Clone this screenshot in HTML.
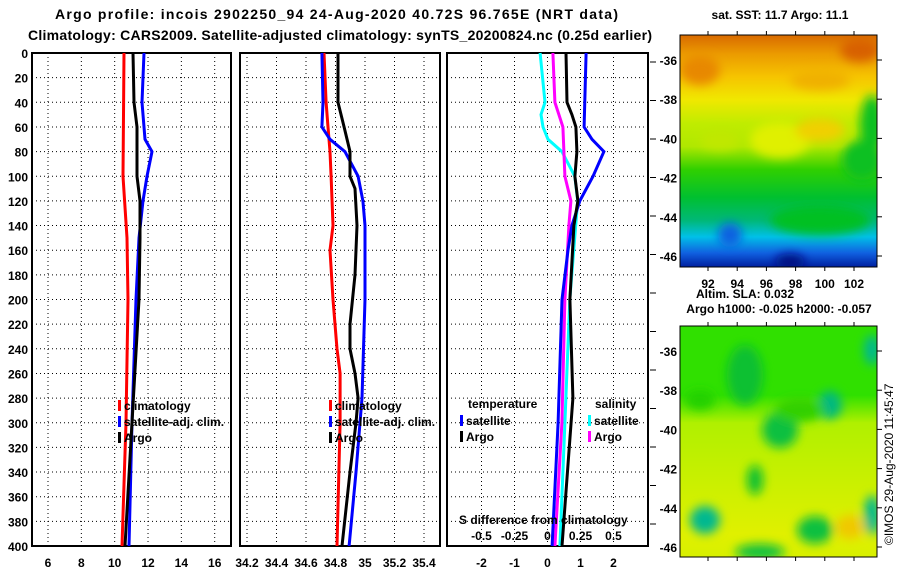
<!DOCTYPE html>
<html><head><meta charset="utf-8"><style>
html,body{margin:0;padding:0;background:#fff;}
svg text{font-family:"Liberation Sans",sans-serif;font-weight:bold;fill:#000;}
</style></head><body>
<svg id="fig" width="900" height="580" viewBox="0 0 900 580" xmlns="http://www.w3.org/2000/svg">
<defs>
<linearGradient id="sstg" x1="0" y1="0" x2="0" y2="1">
<stop offset="0" stop-color="#d86a00"/><stop offset="0.08" stop-color="#eb9a00"/>
<stop offset="0.18" stop-color="#f6c400"/><stop offset="0.28" stop-color="#f0e800"/>
<stop offset="0.38" stop-color="#c0ec00"/><stop offset="0.48" stop-color="#b0e800"/>
<stop offset="0.58" stop-color="#30d000"/><stop offset="0.7" stop-color="#00c030"/>
<stop offset="0.8" stop-color="#00b878"/><stop offset="0.87" stop-color="#00c0e8"/>
<stop offset="0.94" stop-color="#1060e0"/><stop offset="1" stop-color="#0020a0"/>
</linearGradient>
<linearGradient id="slag" x1="0" y1="0" x2="0" y2="1">
<stop offset="0" stop-color="#30e000"/><stop offset="0.3" stop-color="#30e000"/>
<stop offset="0.42" stop-color="#b0f000"/><stop offset="0.9" stop-color="#e0f000"/><stop offset="1" stop-color="#d8f000"/>
</linearGradient>
<filter id="blur"><feGaussianBlur stdDeviation="5"/></filter>
<clipPath id="c1"><rect x="680" y="35" width="197" height="232"/></clipPath>
<clipPath id="c2"><rect x="680" y="326" width="197" height="231"/></clipPath>
</defs>
<text x="55" y="19" font-size="14" textLength="563">Argo profile: incois 2902250_94 24-Aug-2020 40.72S 96.765E (NRT data)</text>
<text x="28" y="40" font-size="14" textLength="624">Climatology: CARS2009. Satellite-adjusted climatology: synTS_20200824.nc (0.25d earlier)</text>
<g id="panels"></g>
<g id="maps">
<text x="780" y="19" font-size="12" text-anchor="middle">sat. SST: 11.7 Argo: 11.1</text>
<g>
<rect x="680" y="35" width="197" height="232" fill="url(#sstg)"/>
<g filter="url(#blur)" clip-path="url(#c1)">
<ellipse cx="820" cy="80" rx="30" ry="10" fill="#f0b000"/>
<ellipse cx="872" cy="125" rx="12" ry="30" fill="#10c020"/>
<ellipse cx="862" cy="160" rx="20" ry="20" fill="#10c020"/>
<ellipse cx="780" cy="140" rx="30" ry="18" fill="#e0f000"/>
<ellipse cx="820" cy="130" rx="25" ry="12" fill="#f0d000"/>
<ellipse cx="720" cy="140" rx="20" ry="10" fill="#c0e800"/>
<ellipse cx="820" cy="220" rx="50" ry="15" fill="#00c020"/>
<ellipse cx="730" cy="235" rx="12" ry="12" fill="#1060e0"/>
<ellipse cx="790" cy="262" rx="15" ry="8" fill="#001080"/>
<ellipse cx="700" cy="70" rx="20" ry="15" fill="#e88800"/>
<ellipse cx="860" cy="50" rx="20" ry="12" fill="#d86000"/>
</g>
<rect x="680" y="35" width="197" height="232" fill="none" stroke="#000"/>
</g>
<text x="745" y="298" font-size="12" text-anchor="middle">Altim. SLA: 0.032</text>
<text x="779" y="313" font-size="12" text-anchor="middle">Argo h1000: -0.025 h2000: -0.057</text>
<g>
<rect x="680" y="326" width="197" height="231" fill="url(#slag)"/>
<g filter="url(#blur)" clip-path="url(#c2)">
<ellipse cx="745" cy="375" rx="18" ry="30" fill="#10c030"/>
<ellipse cx="830" cy="405" rx="12" ry="14" fill="#00b880"/>
<ellipse cx="780" cy="430" rx="18" ry="18" fill="#10c040"/>
<ellipse cx="705" cy="520" rx="15" ry="14" fill="#00b890"/>
<ellipse cx="755" cy="480" rx="8" ry="15" fill="#10c030"/>
<ellipse cx="815" cy="530" rx="18" ry="14" fill="#10c040"/>
<ellipse cx="850" cy="527" rx="14" ry="12" fill="#f0c800"/>
<ellipse cx="872" cy="515" rx="8" ry="20" fill="#00b890"/>
<ellipse cx="760" cy="552" rx="25" ry="8" fill="#10c040"/>
<ellipse cx="800" cy="410" rx="25" ry="12" fill="#30d000"/>
<ellipse cx="700" cy="400" rx="15" ry="10" fill="#20d000"/>
<ellipse cx="872" cy="350" rx="8" ry="15" fill="#00b890"/>
</g>
<rect x="680" y="326" width="197" height="231" fill="none" stroke="#000"/>
</g>
<g id="mapaxes"></g>
<text transform="translate(893,545) rotate(-90)" font-size="12" style="font-weight:normal">©IMOS 29-Aug-2020 11:45:47</text>
</g>
</svg>
<script>
const depthTicks=[0,20,40,60,80,100,120,140,160,180,200,220,240,260,280,300,320,340,360,380,400];
const tTicks=[6,8,10,12,14,16];
const sTicks=[34.2,34.4,34.6,34.8,35,35.2,35.4];
const dTicks=[-2,-1,0,1,2];
const sdTickLabels=["-0.5","-0.25","0","0.25","0.5"];
const sdTicks=[-0.5,-0.25,0,0.25,0.5];
// temperature panel
const tClimDepth=[0,100,150,200,300,400];
const tClim=[10.56,10.5,10.74,10.8,10.68,10.44];
const tArgoDepth=[0,40,60,80,100,120,150,200,300,400];
const tArgo=[11.1,11.16,11.34,11.34,11.34,11.52,11.52,11.46,11.04,10.62];
const tSatDepth=[0,40,70,80,100,120,150,200,300,400];
const tSat=[11.76,11.64,11.82,12.24,11.94,11.7,11.46,11.28,11.04,10.86];
// salinity panel
const sClimDepth=[0,40,60,80,100,140,160,200,240,260,300,400];
const sClim=[34.722,34.736,34.749,34.763,34.770,34.783,34.763,34.783,34.810,34.831,34.831,34.810];
const sArgoDepth=[0,40,60,80,100,110,140,180,220,240,260,280,300,340,400];
const sArgo=[34.817,34.817,34.858,34.898,34.898,34.932,34.946,34.932,34.898,34.898,34.932,34.953,34.939,34.898,34.844];
const sSatDepth=[0,40,60,70,80,100,120,140,200,280,300,340,400];
const sSat=[34.708,34.715,34.708,34.763,34.864,34.953,34.986,35.0,35.0,34.98,34.966,34.939,34.892];
// difference panel
const dTSatDepth=[0,60,70,80,100,120,140,160,200,300,400];
const dTSat=[1.17,1.11,1.35,1.71,1.38,0.98,0.74,0.62,0.44,0.32,0.14];
const dTArgoDepth=[0,40,50,60,80,100,120,140,200,280,400];
const dTArgo=[0.56,0.59,0.74,0.86,0.89,0.83,0.92,0.80,0.68,0.77,0.44];
const dSSatDepth=[0,40,50,60,70,80,100,120,140,200,300,400];
const dSSat=[-0.056,-0.019,-0.049,-0.034,0.004,0.109,0.207,0.229,0.214,0.169,0.132,0.094];
const dSArgoDepth=[0,40,50,60,80,100,120,140,200,300,400];
const dSArgo=[0.041,0.056,0.086,0.117,0.124,0.132,0.177,0.162,0.132,0.109,0.056];
const latTicks=[-36,-38,-40,-42,-44,-46];
const lonTicks=[92,94,96,98,100,102];

const NS='http://www.w3.org/2000/svg';
const Y0=53,Y1=546;
function y(d){return Y0+(d/400)*(Y1-Y0);}
function mk(tag,attrs,parent){const e=document.createElementNS(NS,tag);for(const k in attrs)e.setAttribute(k,attrs[k]);parent.appendChild(e);return e;}
const root=document.getElementById('panels');
function panel(name,L,R,xf,ticks,labels,yl){
  const g=mk('g',{},root);
  
  
  ticks.forEach((t,i)=>{const X=xf(t);
    const l=mk('line',{x1:X,x2:X,y1:Y0,y2:Y1,stroke:'#000','stroke-dasharray':'1,3'},g);
    
    
    if(labels){const tx=mk('text',{x:X,y:567,'font-size':12,'text-anchor':'middle'},g);tx.textContent=labels[i];
      
      }
  });
  depthTicks.forEach(d=>{const Y=y(d);
    if(d>0&&d<400){const l=mk('line',{x1:L,x2:R,y1:Y,y2:Y,stroke:'#000','stroke-dasharray':'1,3'},g);
      
      }
    if(yl){const tx=mk('text',{x:28,y:Y+5,'font-size':12,'text-anchor':'end'},g);tx.textContent=d;
      
      }
  });
  const fr=mk('rect',{x:L,y:Y0,width:R-L,height:Y1-Y0,fill:'none',stroke:'#000','stroke-width':2},g);
  
  
  return g;
}
function line(g,name,xf,vals,deps,color,w){
  const pts=vals.map((v,i)=>xf(v).toFixed(1)+','+y(deps[i]).toFixed(1)).join(' ');
  const p=mk('polyline',{points:pts,fill:'none',stroke:color,'stroke-width':w||3},g);
  
  
}
function leg(g,name,x,yy,color,label){
  const r=mk('rect',{x:x,y:yy-10,width:3,height:11,fill:color},g);
  
  
  const t=mk('text',{x:x+6,y:yy,'font-size':12},g);t.textContent=label;
  
  
}
// panel 1
const xT=v=>48+(v-6)*16.67;
const g1=panel('temperature-panel',32,231,xT,tTicks,tTicks.map(String),true);
line(g1,'temp-climatology-line',xT,tClim,tClimDepth,'#f00');
line(g1,'temp-satellite-line',xT,tSat,tSatDepth,'#00f');
line(g1,'temp-argo-line',xT,tArgo,tArgoDepth,'#000');
leg(g1,'legend-climatology',118,410,'#f00','climatology');
leg(g1,'legend-satellite-adj',118,426,'#00f','satellite-adj. clim.');
leg(g1,'legend-argo',118,442,'#000','Argo');
// panel 2
const xS=v=>247+(v-34.2)/0.2*29.5;
const g2=panel('salinity-panel',240,440,xS,sTicks,sTicks.map(String),false);
line(g2,'sal-climatology-line',xS,sClim,sClimDepth,'#f00');
line(g2,'sal-satellite-line',xS,sSat,sSatDepth,'#00f');
line(g2,'sal-argo-line',xS,sArgo,sArgoDepth,'#000');
leg(g2,'legend-climatology-2',329,410,'#f00','climatology');
leg(g2,'legend-satellite-adj-2',329,426,'#00f','satellite-adj. clim.');
leg(g2,'legend-argo-2',329,442,'#000','Argo');
// panel 3
const xD=v=>547.5+v*33;
const xSD=v=>547.5+v*132;
const g3=panel('difference-panel',447,648,xD,dTicks,dTicks.map(String),false);
line(g3,'dsal-satellite-line',xSD,dSSat,dSSatDepth,'#0ff');
line(g3,'dsal-argo-line',xSD,dSArgo,dSArgoDepth,'#f0f');
line(g3,'dtemp-satellite-line',xD,dTSat,dTSatDepth,'#00f');
line(g3,'dtemp-argo-line',xD,dTArgo,dTArgoDepth,'#000');
[['temperature',468,408],['salinity',595,408]].forEach(a=>{const t=mk('text',{x:a[1],y:a[2],'font-size':12},g3);t.textContent=a[0];
  
  });
leg(g3,'legend-temp-satellite',460,425,'#00f','satellite');
leg(g3,'legend-temp-argo',460,441,'#000','Argo');
leg(g3,'legend-sal-satellite',588,425,'#0ff','satellite');
leg(g3,'legend-sal-argo',588,441,'#f0f','Argo');
const st=mk('text',{x:459,y:524,'font-size':12},g3);st.textContent='S difference from climatology';


sdTicks.forEach((v,i)=>{const t=mk('text',{x:xSD(v),y:540,'font-size':12,'text-anchor':'middle'},g3);t.textContent=sdTickLabels[i];
  
  });
for(let i=0;i<13;i++){const Y=62+i*38.5;if(Y>Y1)break;mk('line',{x1:650,x2:656,y1:Y,y2:Y,stroke:'#000'},g3);}
// map axes
const ma=document.getElementById('mapaxes');
const lonX=v=>708+(v-92)*14.6;
[[35,267,60],[326,557,351]].forEach((m,mi)=>{
  latTicks.forEach(la=>{const Y=m[2]+(-36-la)*19.6;
    mk('line',{x1:877,x2:882,y1:Y,y2:Y,stroke:'#000'},ma);
    const t=mk('text',{x:677,y:Y+5,'font-size':12,'text-anchor':'end'},ma);t.textContent=la;
    
    });
  lonTicks.forEach(lo=>{const X=lonX(lo);
    mk('line',{x1:X,x2:X,y1:m[0]-4,y2:m[0],stroke:'#000'},ma);
    mk('line',{x1:X,x2:X,y1:m[1],y2:m[1]+4,stroke:'#000'},ma);
    if(mi===0){const t=mk('text',{x:X,y:288,'font-size':12,'text-anchor':'middle'},ma);t.textContent=lo;
      
      }});
});
</script>
</body></html>
